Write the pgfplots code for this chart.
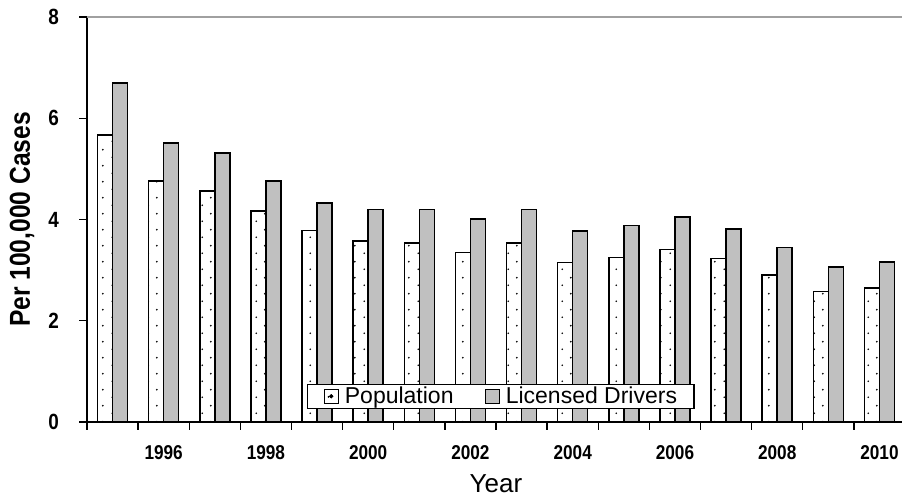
\documentclass[border=0pt]{standalone}
\usepackage{fontspec}
\setmainfont{Liberation Sans}
\usepackage{pgfplots}
\pgfplotsset{compat=1.18}
\usetikzlibrary{patterns}
\pgfdeclarepatternformonly{sparsedots}{\pgfqpoint{0pt}{0pt}}{\pgfqpoint{18pt}{16pt}}{\pgfqpoint{18pt}{16pt}}{%
  \pgfpathcircle{\pgfqpoint{4.5pt}{4pt}}{1pt}%
  \pgfpathcircle{\pgfqpoint{13.5pt}{12pt}}{1pt}%
  \pgfusepath{fill}}
\definecolor{barGray}{RGB}{192,192,192}
\definecolor{topGray}{RGB}{160,160,160}
\newcommand\tk[1]{\scalebox{0.86}[1]{\bfseries #1}}

\pgfplotstableread{
x pop lic
0 5.67 6.70
1 4.76 5.51
2 4.56 5.31
3 4.17 4.76
4 3.78 4.32
5 3.58 4.20
6 3.53 4.20
7 3.35 4.01
8 3.53 4.20
9 3.15 3.77
10 3.25 3.88
11 3.41 4.05
12 3.23 3.81
13 2.90 3.45
14 2.58 3.06
15 2.65 3.16
}\datatable

\begin{document}
\begin{tikzpicture}
\path[use as bounding box] (-87pt,-75pt) rectangle (815pt,422pt);
\begin{axis}[
  at={(0pt,0pt)}, anchor=south west,
  scale only axis, width=818pt, height=405pt,
  xmin=-0.5, xmax=15.5, ymin=0, ymax=8,
  ybar=0pt, bar width=15pt,
  axis x line*=bottom, axis y line*=left,
  axis line style={line width=1.6pt, -},
  tick align=outside,
  tick style={black, line width=1.3pt},
  major tick length=8pt,
  xtick={-0.5,0.5,...,15.5}, xticklabels={},
  extra x ticks={1,3,5,7,9,11,13,15},
  extra x tick labels={\tk{1996},\tk{1998},\tk{2000},\tk{2002},\tk{2004},\tk{2006},\tk{2008},\tk{2010}},
  extra x tick style={major tick length=0pt},
  xticklabel style={font=\fontsize{20}{20}\selectfont, inner sep=0pt, anchor=north, yshift=-23pt},
  ytick={0,2,4,6,8},
  yticklabels={\tk{0},\tk{2},\tk{4},\tk{6},\tk{8}},
  yticklabel style={font=\fontsize{22}{22}\selectfont, inner sep=0pt, anchor=east, xshift=-20pt},
  ylabel={\scalebox{0.855}[1]{\bfseries Per 100,000 Cases}},
  every axis y label/.style={at={(axis description cs:-0.0795,0.5)}, rotate=90, anchor=center, font=\fontsize{28.8}{29}\selectfont},
  xlabel={Year},
  every axis x label/.style={at={(axis description cs:0.5,-0.1284)}, anchor=north, inner sep=0pt, font=\fontsize{26}{26}\selectfont},
  legend columns=2,
  legend style={at={(axis description cs:0.269,0.032)}, anchor=south west,
    draw=black, line width=1.3pt, fill=white, inner xsep=16pt, inner ysep=2pt,
    font=\fontsize{23}{23}\selectfont,
    nodes={inner sep=1pt},
    /tikz/every odd column/.append style={column sep=5pt},
    /tikz/every even column/.append style={column sep=30pt}},
  legend cell align=left,
]
\addplot[draw=black, line width=1.6pt, fill=white, postaction={pattern=sparsedots},
  legend image code/.code={\draw[black, line width=1.2pt, fill=white] (0pt,-7pt) rectangle (14pt,7pt); \fill[black] (7pt,0pt) circle (1pt);}]
  table[x=x, y=pop] {\datatable};
\addlegendentry{Population}
\addplot[draw=black, line width=1.6pt, fill=barGray,
  legend image code/.code={\draw[black, line width=1.2pt, fill=barGray] (0pt,-7pt) rectangle (14pt,7pt);}]
  table[x=x, y=lic] {\datatable};
\addlegendentry{Licensed Drivers}
\draw[topGray, line width=1.6pt] (rel axis cs:0,1) -- (rel axis cs:1,1);
\end{axis}
\end{tikzpicture}
\end{document}
